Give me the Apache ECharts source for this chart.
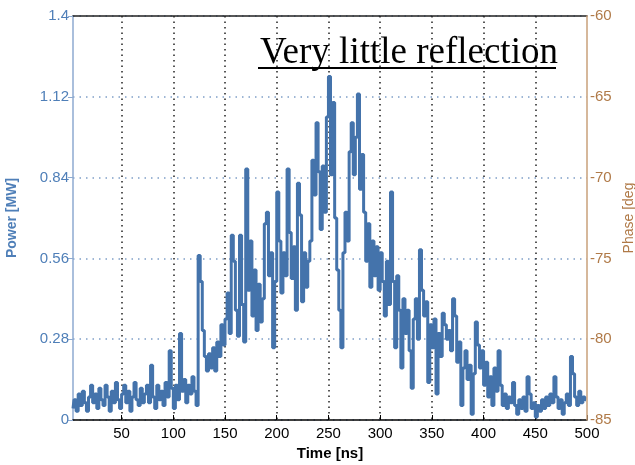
<!DOCTYPE html>
<html><head><meta charset="utf-8">
<script src="https://cdn.jsdelivr.net/npm/echarts@6/dist/echarts.min.js"></script>
<style>html,body{margin:0;padding:0;background:#fff}#c{width:635px;height:465px}</style>
</head><body><div id="c"></div>
<script>
const time = [
3,5,7,9,11,13,15,17,19,21,23,25,27,29,31,33,35,37,39,41,43,45,47,49,51,
53,55,57,59,61,63,65,67,69,71,73,75,77,79,81,83,85,87,89,91,93,95,97,99,101,
103,105,107,109,111,113,115,117,119,121,123,125,127,129,131,133,135,137,139,141,143,145,147,149,151,
153,155,157,159,161,163,165,167,169,171,173,175,177,179,181,183,185,187,189,191,193,195,197,199,201,
203,205,207,209,211,213,215,217,219,221,223,225,227,229,231,233,235,237,239,241,243,245,247,249,251,
253,255,257,259,261,263,265,267,269,271,273,275,277,279,281,283,285,287,289,291,293,295,297,299,301,
303,305,307,309,311,313,315,317,319,321,323,325,327,329,331,333,335,337,339,341,343,345,347,349,351,
353,355,357,359,361,363,365,367,369,371,373,375,377,379,381,383,385,387,389,391,393,395,397,399,401,
403,405,407,409,411,413,415,417,419,421,423,425,427,429,431,433,435,437,439,441,443,445,447,449,451,
453,455,457,459,461,463,465,467,469,471,473,475,477,479,481,483,485,487,489,491,493,495,497,499
];
const power = [
0.04,0.07,0.03,0.09,0.05,0.10,0.06,0.03,0.08,0.12,0.06,0.09,0.04,0.11,0.07,0.05,0.12,0.08,0.03,0.10,0.06,0.13,0.07,0.04,0.09,
0.12,0.06,0.10,0.03,0.08,0.13,0.07,0.05,0.11,0.06,0.09,0.12,0.06,0.19,0.08,0.04,0.12,0.07,0.10,0.05,0.13,0.08,0.24,0.11,0.04,
0.12,0.07,0.30,0.10,0.14,0.06,0.12,0.09,0.15,0.10,0.05,0.57,0.48,0.31,0.22,0.17,0.23,0.18,0.25,0.17,0.27,0.22,0.33,0.26,0.35,
0.44,0.30,0.64,0.55,0.38,0.29,0.64,0.40,0.27,0.87,0.45,0.62,0.36,0.52,0.31,0.47,0.34,0.42,0.68,0.72,0.50,0.58,0.25,0.48,0.79,
0.62,0.44,0.58,0.50,0.87,0.65,0.49,0.60,0.38,0.82,0.71,0.41,0.58,0.46,0.55,0.62,0.90,0.78,1.03,0.86,0.66,0.88,0.72,1.05,1.19,
0.85,1.10,0.70,0.52,0.38,0.25,0.58,0.72,0.62,0.93,1.03,0.85,0.98,1.13,0.80,0.92,0.72,0.55,0.68,0.46,0.62,0.50,0.60,0.45,0.58,
0.48,0.36,0.55,0.40,0.79,0.48,0.25,0.50,0.38,0.18,0.42,0.30,0.38,0.24,0.11,0.35,0.42,0.28,0.59,0.45,0.36,0.41,0.13,0.33,0.25,
0.35,0.09,0.30,0.22,0.37,0.33,0.28,0.31,0.24,0.42,0.36,0.20,0.27,0.05,0.18,0.24,0.14,0.19,0.02,0.16,0.34,0.26,0.18,0.24,0.12,
0.20,0.08,0.15,0.05,0.18,0.10,0.24,0.12,0.05,0.09,0.04,0.08,0.06,0.13,0.05,0.02,0.07,0.04,0.08,0.03,0.15,0.09,0.04,0.06,0.01,
0.05,0.03,0.07,0.04,0.08,0.05,0.09,0.06,0.15,0.08,0.04,0.07,0.02,0.06,0.09,0.05,0.22,0.16,0.08,0.05,0.10,0.06,0.08,0.07
];
const timeTicks = [50,100,150,200,250,300,350,400,450,500];
const gridTicks = [50,100,150,200,250,300,350,400,450];
const title = 'Very little reflection';

const chart = echarts.init(document.getElementById('c'));
const font = 'Liberation Sans';
chart.setOption({
  animation: false,
  backgroundColor: '#fff',
  title: { text: title, left: 255, top: 30,
    textStyle: { fontFamily: 'Liberation Serif', fontSize: 37, fontWeight: 'normal', color: '#000' } },
  graphic: [{ type: 'line', shape: { x1: 258, y1: 68, x2: 556, y2: 68 }, style: { stroke: '#000', lineWidth: 2 } }],
  grid: { left: 73, right: 48, top: 16, bottom: 45, containLabel: false, outerBoundsMode: 'none' },
  xAxis: [{
    type: 'value', min: 3, max: 500, position: 'bottom',
    name: 'Time [ns]', nameLocation: 'middle', nameGap: 24,
    nameTextStyle: { fontFamily: font, fontSize: 15, fontWeight: 'bold', color: '#000' },
    axisLine: { lineStyle: { color: '#000', width: 1.5 } },
    axisTick: { inside: true, length: 5, customValues: timeTicks, lineStyle: { color: '#000' } },
    axisLabel: { customValues: timeTicks, fontFamily: font, fontSize: 15, color: '#000', margin: 6 },
    splitLine: { show: false }
  }, {
    type: 'value', min: 3, max: 500, position: 'top',
    axisLine: { lineStyle: { color: '#222', width: 1.5 } },
    axisTick: { show: false, customValues: gridTicks },
    axisLabel: { show: false, customValues: gridTicks },
    splitLine: { show: true, lineStyle: { color: '#222', type: [1.5, 4], width: 1.5 } }
  }],
  yAxis: [{
    type: 'value', min: 0, max: 1.4, interval: 0.28, position: 'left',
    name: 'Power [MW]', nameLocation: 'middle', nameGap: 54, nameRotate: 90,
    nameTextStyle: { fontFamily: font, fontSize: 14, fontWeight: 'bold', color: '#4f7fb8' },
    axisLine: { show: true, lineStyle: { color: '#8eaad0', width: 1.5 } },
    axisTick: { show: true, length: 5, lineStyle: { color: '#8eaad0' } },
    axisLabel: { fontFamily: font, fontSize: 15, color: '#4f7fb8', margin: 4,
      formatter: v => String(+v.toFixed(2)) },
    splitLine: { show: true, lineStyle: { color: '#7f9fc8', type: [1.5, 5], width: 1.5 } }
  }, {
    type: 'value', min: -85, max: -60, interval: 5, position: 'right', z: 10,
    name: 'Phase [deg', nameLocation: 'middle', nameGap: 31, nameRotate: 90,
    nameTextStyle: { fontFamily: font, fontSize: 14, color: '#b07a48' },
    axisLine: { show: true, lineStyle: { color: '#c8a07a', width: 1.5 } },
    axisTick: { show: false },
    axisLabel: { fontFamily: font, fontSize: 15, color: '#b07a48', margin: 3,
      formatter: v => String(v) },
    splitLine: { show: false }
  }],
  series: [{
    type: 'line', step: 'middle', xAxisIndex: 0, yAxisIndex: 0,
    data: time.map((t, i) => [t, power[i]]),
    showSymbol: false, symbol: 'none',
    lineStyle: { color: '#4473ab', width: 3 }
  }]
});
</script>
</body></html>
